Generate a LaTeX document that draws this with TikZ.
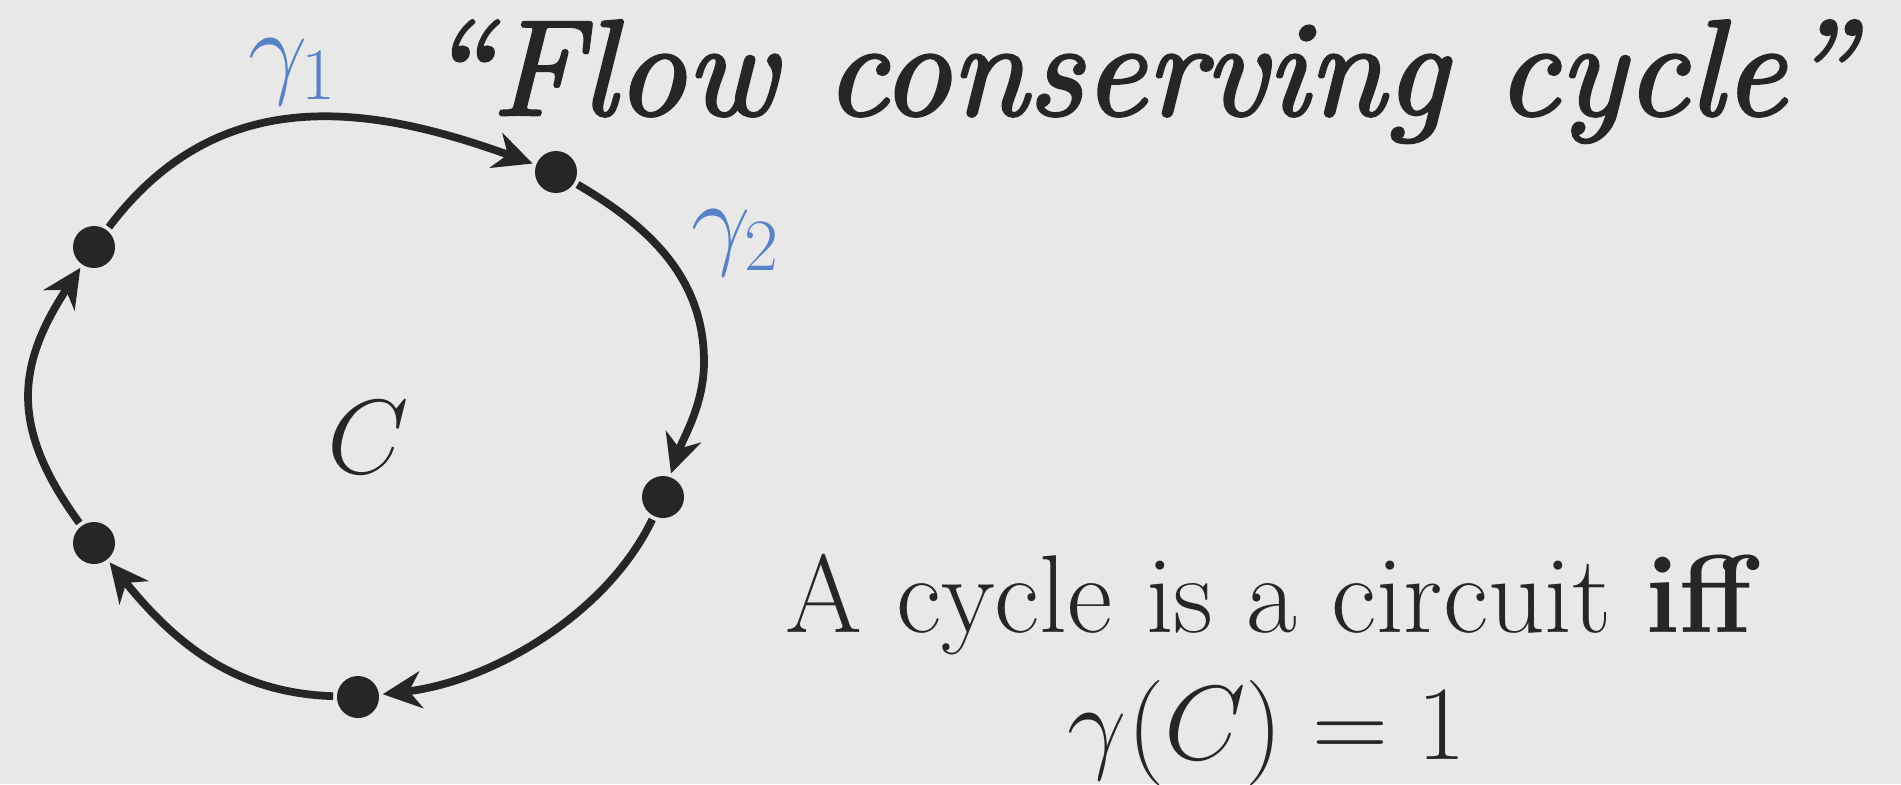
\RequirePackage{fix-cm}
\documentclass[tikz,border=0pt]{standalone}
\usepackage{amsmath}
\usetikzlibrary{arrows.meta}
\definecolor{bgc}{RGB}{232,232,232}
\definecolor{ink}{RGB}{38,38,38}
\definecolor{gblue}{RGB}{88,130,198}
\font\titlefnt="[lmroman10-italic.otf]:mapping=tex-text;embolden=2" at 38.8pt

\begin{document}
\begin{tikzpicture}[x=0.01cm, y=-0.01cm, line width=2.2pt,
    >={Stealth[length=11pt, width=10.5pt, inset=3.5pt]},
    dot/.style={circle, fill=ink, inner sep=0pt, minimum size=0.42cm},
    lab/.style={anchor=base, inner sep=0pt, text=ink, font=\fontsize{30}{36}\selectfont}]
    % Background
    \fill[bgc] (0,0) rectangle (1901,784);
    \useasboundingbox (0,0) rectangle (1901,784);

    % Vertices of the cycle
    \node[dot] (v1) at (94,247) {};
    \node[dot] (v2) at (556,172) {};
    \node[dot] (v3) at (663,497) {};
    \node[dot] (v4) at (358,697) {};
    \node[dot] (v5) at (94,543) {};
    \coordinate (r2) at (704,362);

    % Arcs of the cycle
    \draw[->, ink] (v1) .. controls (221,78) and (376,107) .. (v2);
    \draw[->, ink] (v2) .. controls (652,228) and (704,280) .. (r2)
                        .. controls (704,405) and (683,438) .. (v3);
    \draw[->, ink] (v3) .. controls (606,616) and (489,682) .. (v4);
    \draw[->, ink] (v4) .. controls (237,693) and (177,646) .. (v5);
    \draw[->, ink] (v5) .. controls (10,428) and (16,366) .. (v1);

    % Labels
    \node[lab, text=gblue] (g1) at (293,84) {$\gamma_1$};
    \node[lab, text=gblue] (g2) at (736,255) {$\gamma_2$};
    \node[lab] (cyc) at (368,473) {$C$};

    % Title and statement
    \node[lab, anchor=base west, font=\titlefnt] (title) at (421,115) {``Flow conserving cycle''};
    \node[lab, font=\fontsize{31.5}{38}\selectfont] (stmt) at (1273,632) {A cycle is a circuit \textbf{iff}};
    \node[lab, font=\fontsize{30}{36}\selectfont] (eq) at (1267,759) {$\gamma(C) = 1$};
\end{tikzpicture}
\end{document}
